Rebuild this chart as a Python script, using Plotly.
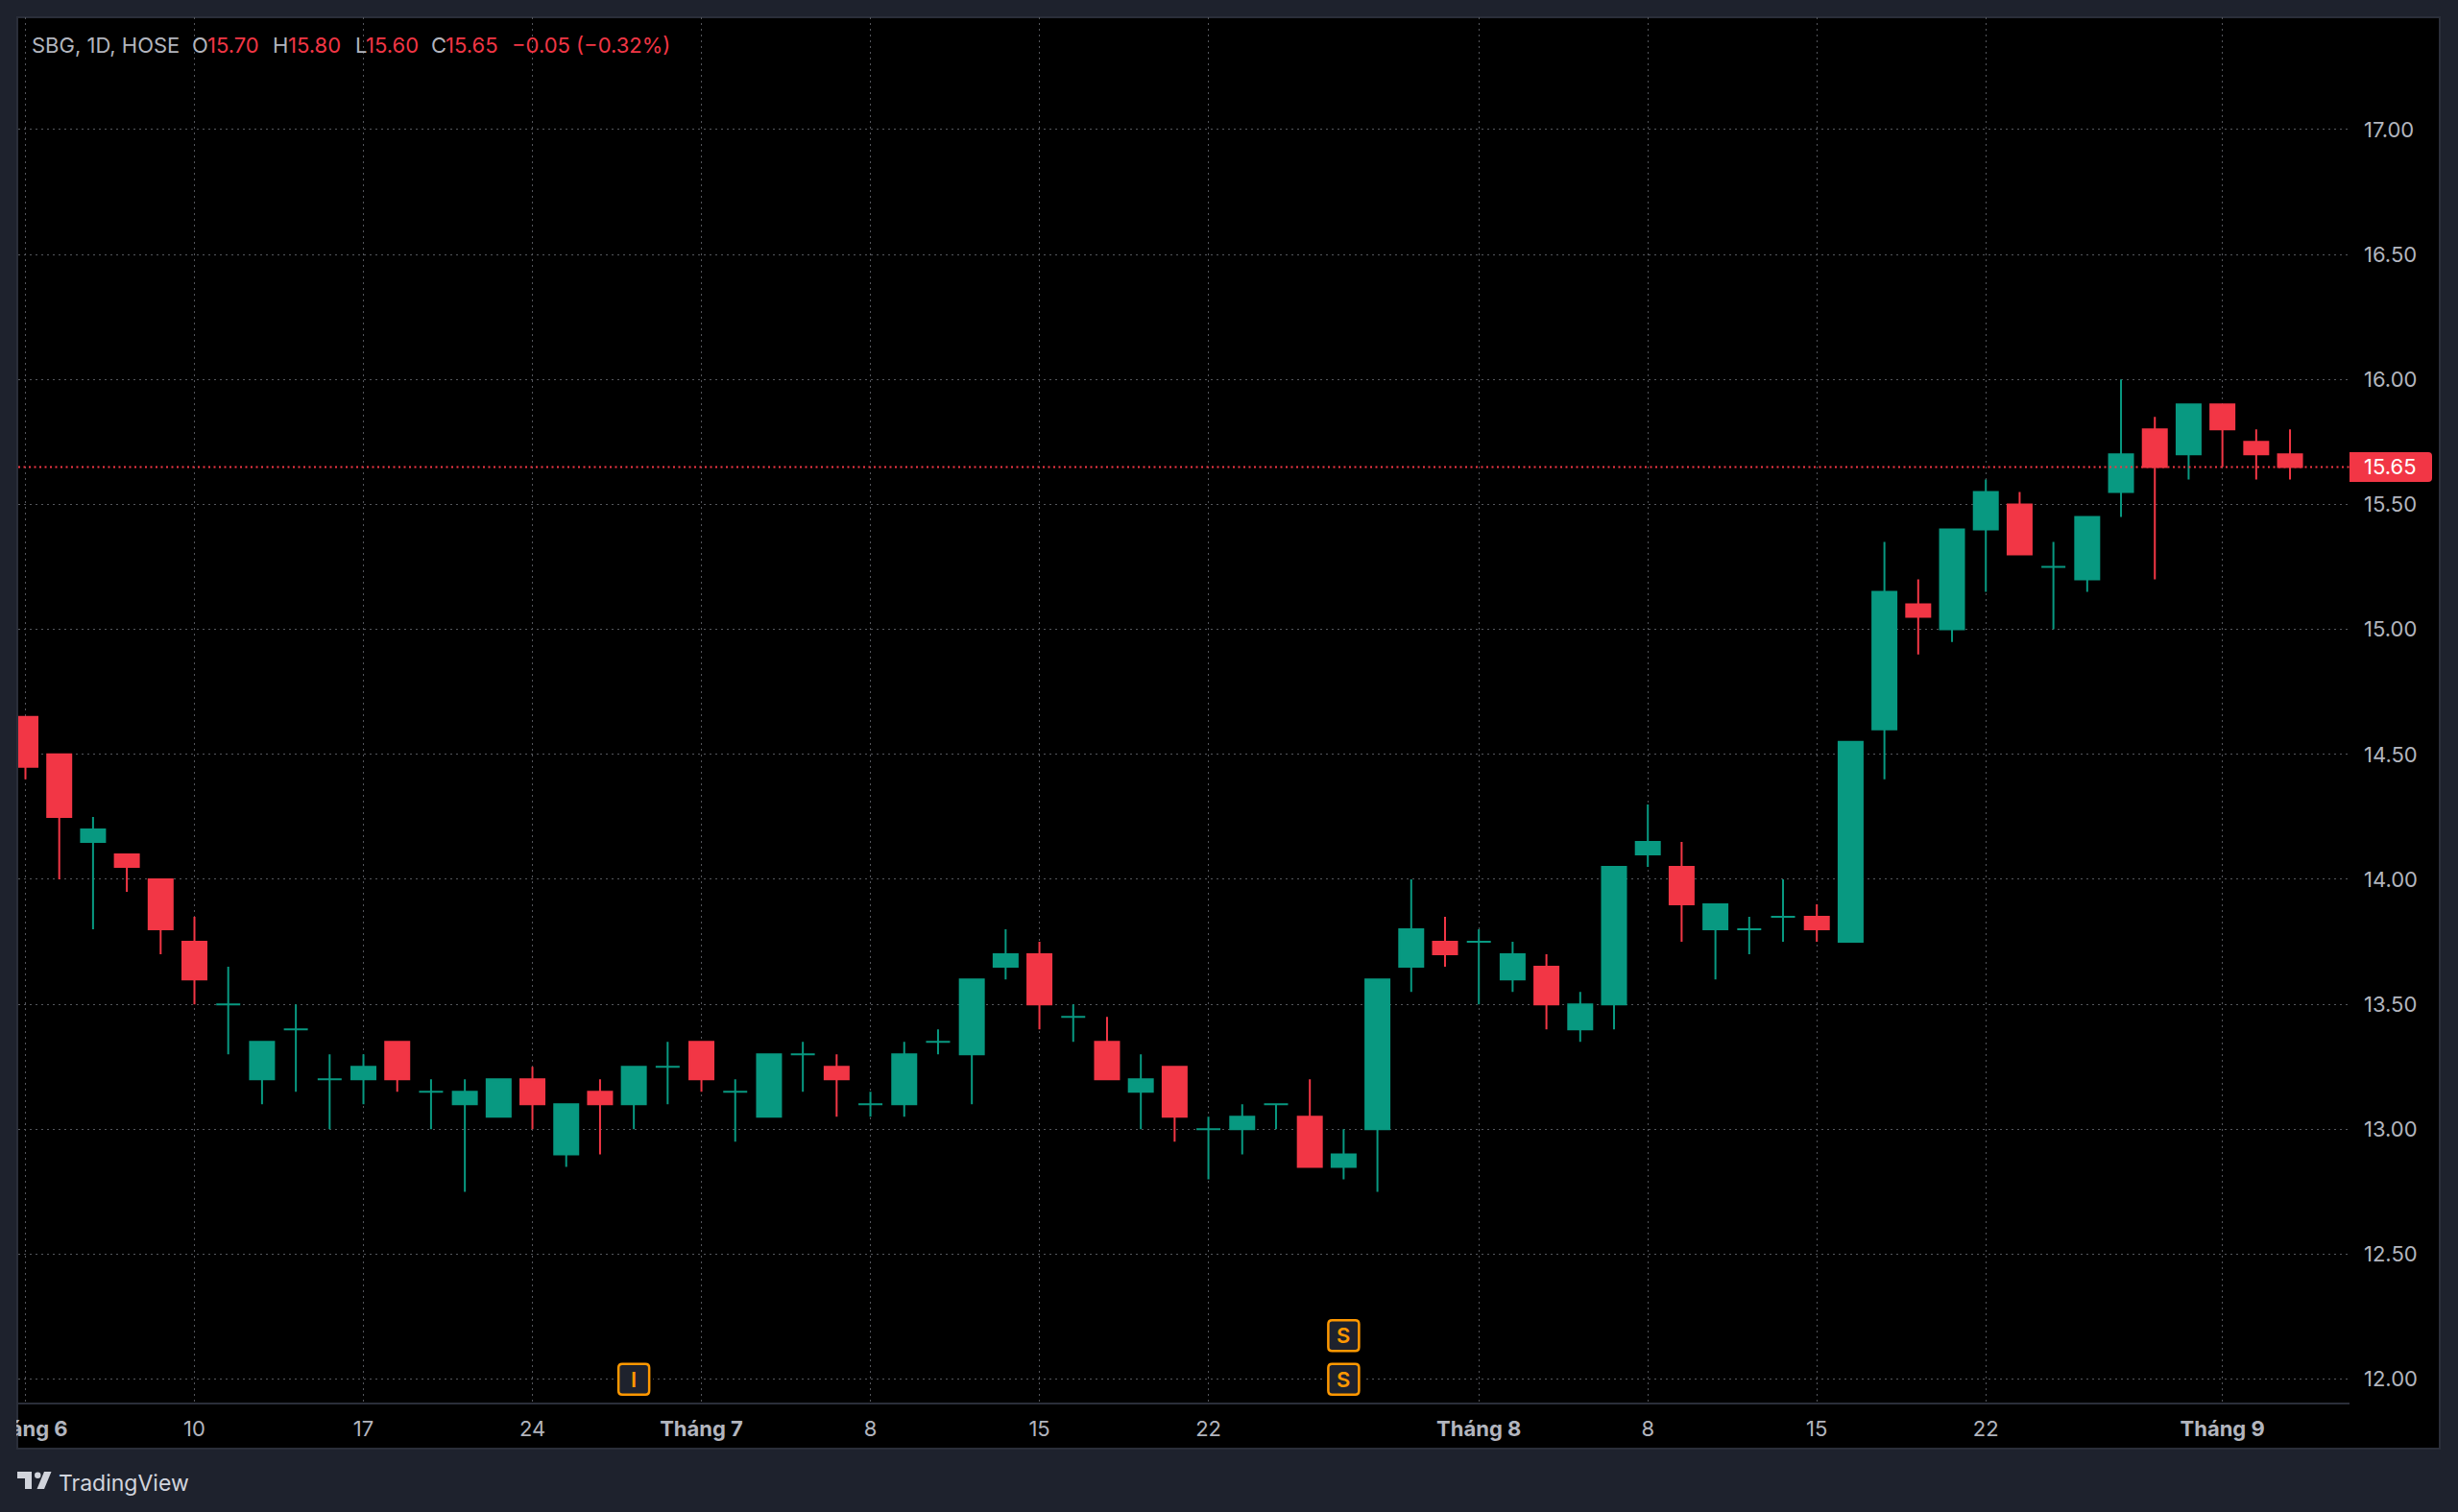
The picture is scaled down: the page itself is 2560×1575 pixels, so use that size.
import plotly.graph_objects as go

dates = [
 "2024-06-03","2024-06-04","2024-06-05","2024-06-06","2024-06-07",
 "2024-06-10","2024-06-11","2024-06-12","2024-06-13","2024-06-14",
 "2024-06-17","2024-06-18","2024-06-19","2024-06-20","2024-06-21",
 "2024-06-24","2024-06-25","2024-06-26","2024-06-27","2024-06-28",
 "2024-07-01","2024-07-02","2024-07-03","2024-07-04","2024-07-05",
 "2024-07-08","2024-07-09","2024-07-10","2024-07-11","2024-07-12",
 "2024-07-15","2024-07-16","2024-07-17","2024-07-18","2024-07-19",
 "2024-07-22","2024-07-23","2024-07-24","2024-07-25","2024-07-26",
 "2024-07-29","2024-07-30","2024-07-31","2024-08-01","2024-08-02",
 "2024-08-05","2024-08-06","2024-08-07","2024-08-08","2024-08-09",
 "2024-08-12","2024-08-13","2024-08-14","2024-08-15","2024-08-16",
 "2024-08-19","2024-08-20","2024-08-21","2024-08-22","2024-08-23",
 "2024-08-26","2024-08-27","2024-08-28","2024-08-29","2024-08-30",
 "2024-09-04","2024-09-05","2024-09-06"]

opens = [14.65,14.50,14.15,14.10,14.00,13.75,13.50,13.20,13.40,13.20,
         13.20,13.35,13.15,13.10,13.05,13.20,12.90,13.15,13.10,13.25,
         13.35,13.15,13.05,13.30,13.25,13.10,13.10,13.35,13.30,13.65,
         13.70,13.45,13.35,13.15,13.25,13.00,13.00,13.10,13.05,12.85,
         13.00,13.65,13.75,13.75,13.60,13.65,13.40,13.50,14.10,14.05,
         13.80,13.80,13.85,13.85,13.75,14.60,15.10,15.00,15.40,15.50,
         15.25,15.20,15.55,15.80,15.70,15.90,15.75,15.70]
highs = [14.65,14.50,14.25,14.10,14.00,13.85,13.65,13.35,13.50,13.30,
         13.30,13.35,13.20,13.20,13.20,13.25,13.10,13.20,13.25,13.35,
         13.35,13.20,13.30,13.35,13.30,13.15,13.35,13.40,13.60,13.80,
         13.75,13.50,13.45,13.30,13.25,13.05,13.10,13.10,13.20,13.00,
         13.60,14.00,13.85,13.80,13.75,13.70,13.55,14.05,14.30,14.15,
         13.90,13.85,14.00,13.90,14.55,15.35,15.20,15.40,15.60,15.55,
         15.35,15.45,16.00,15.85,15.90,15.90,15.80,15.80]
lows = [14.40,14.00,13.80,13.95,13.70,13.50,13.30,13.10,13.15,13.00,
        13.10,13.15,13.00,12.75,13.05,13.00,12.85,12.90,13.00,13.10,
        13.15,12.95,13.05,13.15,13.05,13.05,13.05,13.30,13.10,13.60,
        13.40,13.35,13.20,13.00,12.95,12.80,12.90,13.00,12.85,12.80,
        12.75,13.55,13.65,13.50,13.55,13.40,13.35,13.40,14.05,13.75,
        13.60,13.70,13.75,13.75,13.75,14.40,14.90,14.95,15.15,15.30,
        15.00,15.15,15.45,15.20,15.60,15.65,15.60,15.60]
closes = [14.45,14.25,14.20,14.05,13.80,13.60,13.50,13.35,13.40,13.20,
          13.25,13.20,13.15,13.15,13.20,13.10,13.10,13.10,13.25,13.25,
          13.20,13.15,13.30,13.30,13.20,13.10,13.30,13.35,13.60,13.70,
          13.50,13.45,13.20,13.20,13.05,13.00,13.05,13.10,12.85,12.90,
          13.60,13.80,13.70,13.75,13.70,13.50,13.50,14.05,14.15,13.90,
          13.90,13.80,13.85,13.80,14.55,15.15,15.05,15.40,15.55,15.30,
          15.25,15.45,15.70,15.65,15.90,15.80,15.70,15.65]

x_tick_dates = ["2024-06-03","2024-06-10","2024-06-17","2024-06-24","2024-07-01",
                "2024-07-08","2024-07-15","2024-07-22","2024-08-01","2024-08-08",
                "2024-08-15","2024-08-22","2024-09-04"]
x_tick_labels = ["<b>Tháng 6</b>","10","17","24","<b>Tháng 7</b>","8","15","22",
                 "<b>Tháng 8</b>","8","15","22","<b>Tháng 9</b>"]
y_ticks = [12.0,12.5,13.0,13.5,14.0,14.5,15.0,15.5,16.0,16.5,17.0]
last_price = 15.65
events = [("2024-06-27",12.00,"I"),("2024-07-26",12.00,"S"),("2024-07-26",12.175,"S")]

W, H = 2560, 1575
L, R, T, B = 19, 113, 18, 114
PW, PH = W-L-R, H-T-B
px = lambda v: (v-L)/PW
py = lambda v: 1-(v-T)/PH

UP, DOWN = "#089981", "#f23645"
PAPER, GRID, TEXT = "#1e222d", "#54565c", "#b2b5be"
FONT = "Inter"

def subset(test):
    idx = [i for i in range(len(dates)) if test(opens[i], closes[i])]
    return dict(x=[dates[i] for i in idx], open=[opens[i] for i in idx], high=[highs[i] for i in idx],
                low=[lows[i] for i in idx], close=[closes[i] for i in idx])

fig = go.Figure()
for cond, col in ((lambda o, c: c >= o, UP), (lambda o, c: c < o, DOWN)):
    fig.add_trace(go.Candlestick(**subset(cond), whiskerwidth=0, showlegend=False, hoverinfo="skip",
        increasing=dict(line=dict(color=col, width=2), fillcolor=col),
        decreasing=dict(line=dict(color=col, width=2), fillcolor=col)))

def rrect(hw, hh, r):
    return (f"M {-hw+r} {-hh} L {hw-r} {-hh} Q {hw} {-hh} {hw} {-hh+r} L {hw} {hh-r} Q {hw} {hh} {hw-r} {hh} "
            f"L {-hw+r} {hh} Q {-hw} {hh} {-hw} {hh-r} L {-hw} {-hh+r} Q {-hw} {-hh} {-hw+r} {-hh} Z")

shapes = [
    dict(type="rect", layer="below", xref="paper", yref="paper", x0=px(18), x1=px(2541), y0=py(1509), y1=py(18),
         fillcolor="#000000", line=dict(color="#2a2e39", width=2)),
    dict(type="line", layer="above", xref="paper", yref="y", x0=0, x1=1, y0=last_price, y1=last_price,
         line=dict(color=DOWN, width=2, dash="2px,3.5px")),
    dict(type="rect", layer="above", xref="paper", yref="paper", x0=px(-30), x1=px(17), y0=py(1509), y1=py(1440),
         fillcolor=PAPER, line=dict(width=0)),
    dict(type="path", layer="above", xref="paper", yref="y", xsizemode="pixel", ysizemode="pixel",
         xanchor=1.0, yanchor=last_price,
         path="M 0 -15.5 L 82 -15.5 Q 86 -15.5 86 -11.5 L 86 11.5 Q 86 15.5 82 15.5 L 0 15.5 Z",
         fillcolor=DOWN, line=dict(width=0)),
]
logo = "#d1d4dc"
def P(pts):
    return "M " + " L ".join(f"{px(a)} {py(b)}" for a, b in pts) + " Z"
for poly in ([(18,1533),(33,1533),(33,1551),(26,1551),(26,1540),(18,1540)],
             [(46,1533),(53.5,1533),(46,1551),(38.5,1551)]):
    shapes.append(dict(type="path", layer="above", xref="paper", yref="paper", path=P(poly),
                       fillcolor=logo, line=dict(width=0)))
shapes.append(dict(type="circle", layer="above", xref="paper", yref="paper", x0=px(36), x1=px(42.5),
                   y0=py(1540), y1=py(1533.5), fillcolor=logo, line=dict(width=0)))

annotations = []
for d, y, t in events:
    shapes.append(dict(type="path", layer="above", xref="x", yref="y", xsizemode="pixel", ysizemode="pixel",
                       xanchor=d, yanchor=y, path=rrect(20, 20, 4), fillcolor="#000000", line=dict(width=0)))
    shapes.append(dict(type="path", layer="above", xref="x", yref="y", xsizemode="pixel", ysizemode="pixel",
                       xanchor=d, yanchor=y, path=rrect(16, 16, 4), fillcolor=PAPER,
                       line=dict(color="#ff9800", width=2.5)))
    annotations.append(dict(x=d, y=y, xref="x", yref="y", text=t, showarrow=False,
                            font=dict(family=FONT, size=22, color="#ff9800", weight=600)))

header = [(32,"SBG, 1D, HOSE",TEXT),(199,"O",TEXT),(215,"15.70",DOWN),(283,"H",TEXT),(299,"15.80",DOWN),
          (369,"L",TEXT),(380,"15.60",DOWN),(448,"C",TEXT),(463,"15.65",DOWN),(532,"−0.05 (−0.32%)",DOWN)]
for x0, t, c in header:
    annotations.append(dict(x=px(x0), y=py(46.5), xref="paper", yref="paper", xanchor="left", yanchor="middle",
                            xshift=0, text=t, showarrow=False, borderpad=0, font=dict(family=FONT, size=22, color=c)))
annotations.append(dict(x=1, y=last_price, xref="paper", yref="y", xanchor="left", yanchor="middle", xshift=14,
                        text=f"{last_price:.2f}", showarrow=False, borderpad=0,
                        font=dict(family=FONT, size=22, color="#ffffff")))
annotations.append(dict(x=px(60), y=py(1545), xref="paper", yref="paper", xanchor="left", yanchor="middle",
                        text="TradingView", showarrow=False, borderpad=0,
                        font=dict(family=FONT, size=23, color="#d1d4dc")))

fig.update_layout(
    width=W, height=H, autosize=False, margin=dict(l=L, r=R, t=T, b=B, pad=0, autoexpand=False),
    paper_bgcolor=PAPER, plot_bgcolor="#000000", showlegend=False,
    boxgap=0.29, boxgroupgap=0, boxmode="overlay", hovermode=False,
    font=dict(family=FONT, size=22, color=TEXT),
    shapes=shapes, annotations=annotations,
    xaxis=dict(type="category", categoryorder="array", categoryarray=dates, range=[-0.213, 68.76],
               rangeslider=dict(visible=False), tickmode="array", tickvals=x_tick_dates, ticktext=x_tick_labels,
               showgrid=True, gridcolor=GRID, griddash="2px,4px", gridwidth=1, zeroline=False,
               showline=True, linecolor="#2a2e39", linewidth=2, ticks="", ticklabelstandoff=7,
               ticklabeloverflow="allow", tickangle=0, tickfont=dict(family=FONT, size=22, color=TEXT)),
    yaxis=dict(side="right", range=[11.9067, 17.449], tickmode="array", tickvals=y_ticks,
               ticktext=[f"{v:.2f}" for v in y_ticks], showgrid=True, gridcolor=GRID, griddash="2px,4px",
               gridwidth=1, zeroline=False, showline=False, ticks="", ticklabelstandoff=14,
               tickfont=dict(family=FONT, size=22, color=TEXT)),
)
fig.write_html("out.html", config=dict(displayModeBar=False),
               post_script="document.body.style.margin='0';document.documentElement.style.overflow='hidden';document.documentElement.style.background='#1e222d';")
